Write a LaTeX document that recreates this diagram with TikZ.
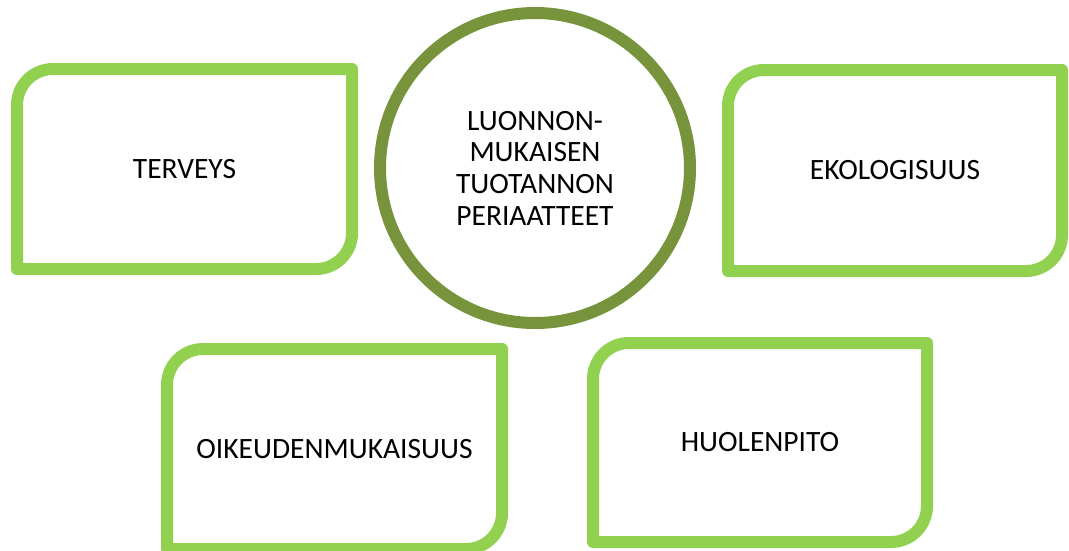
\documentclass[tikz,border=0pt]{standalone}
\usepackage{fontspec}
\setmainfont{Carlito}
\definecolor{boxgreen}{HTML}{92D050}
\definecolor{olive}{HTML}{77933C}
\newlength{\rr}
\setlength{\rr}{36pt}
\newcommand{\rtwobox}[1]{\draw[boxline] (#1.south west) -- ([yshift=-\rr]#1.north west) arc[start angle=180,end angle=90,radius=\rr] -- (#1.north east) -- ([yshift=\rr]#1.south east) arc[start angle=0,end angle=-90,radius=\rr] -- cycle;}
\tikzset{
  boxline/.style={draw=boxgreen, line width=12pt, line join=round},
  boxnode/.style={inner sep=0pt, outer sep=0pt, minimum width=335pt, minimum height=200pt, font=\fontsize{29.5}{32}\selectfont},
  hubnode/.style={circle, draw=olive, line width=12pt, inner sep=0pt, minimum size=310pt, align=center, font=\fontsize{29.5}{31.7}\selectfont}
}
\begin{document}
\begin{tikzpicture}[x=1pt,y=-1pt]
\useasboundingbox (0,0) rectangle (1069,550);
\clip (0,0) rectangle (1069,550);
\node[boxnode] (terveys) at (184.5,169) {TERVEYS};
\node[boxnode, minimum height=201pt, minimum width=334pt] (ekologisuus) at (895,170.5) {EKOLOGISUUS};
\node[boxnode] (oikeus) at (334.5,449) {OIKEUDENMUKAISUUS};
\node[boxnode, minimum width=334pt, minimum height=199pt] (huolenpito) at (760,442.5) {HUOLENPITO};
\rtwobox{terveys}
\rtwobox{ekologisuus}
\rtwobox{oikeus}
\rtwobox{huolenpito}
\node[hubnode] (hub) at (535,168) {LUONNON-\\MUKAISEN\\TUOTANNON\\PERIAATTEET};
\end{tikzpicture}
\end{document}
